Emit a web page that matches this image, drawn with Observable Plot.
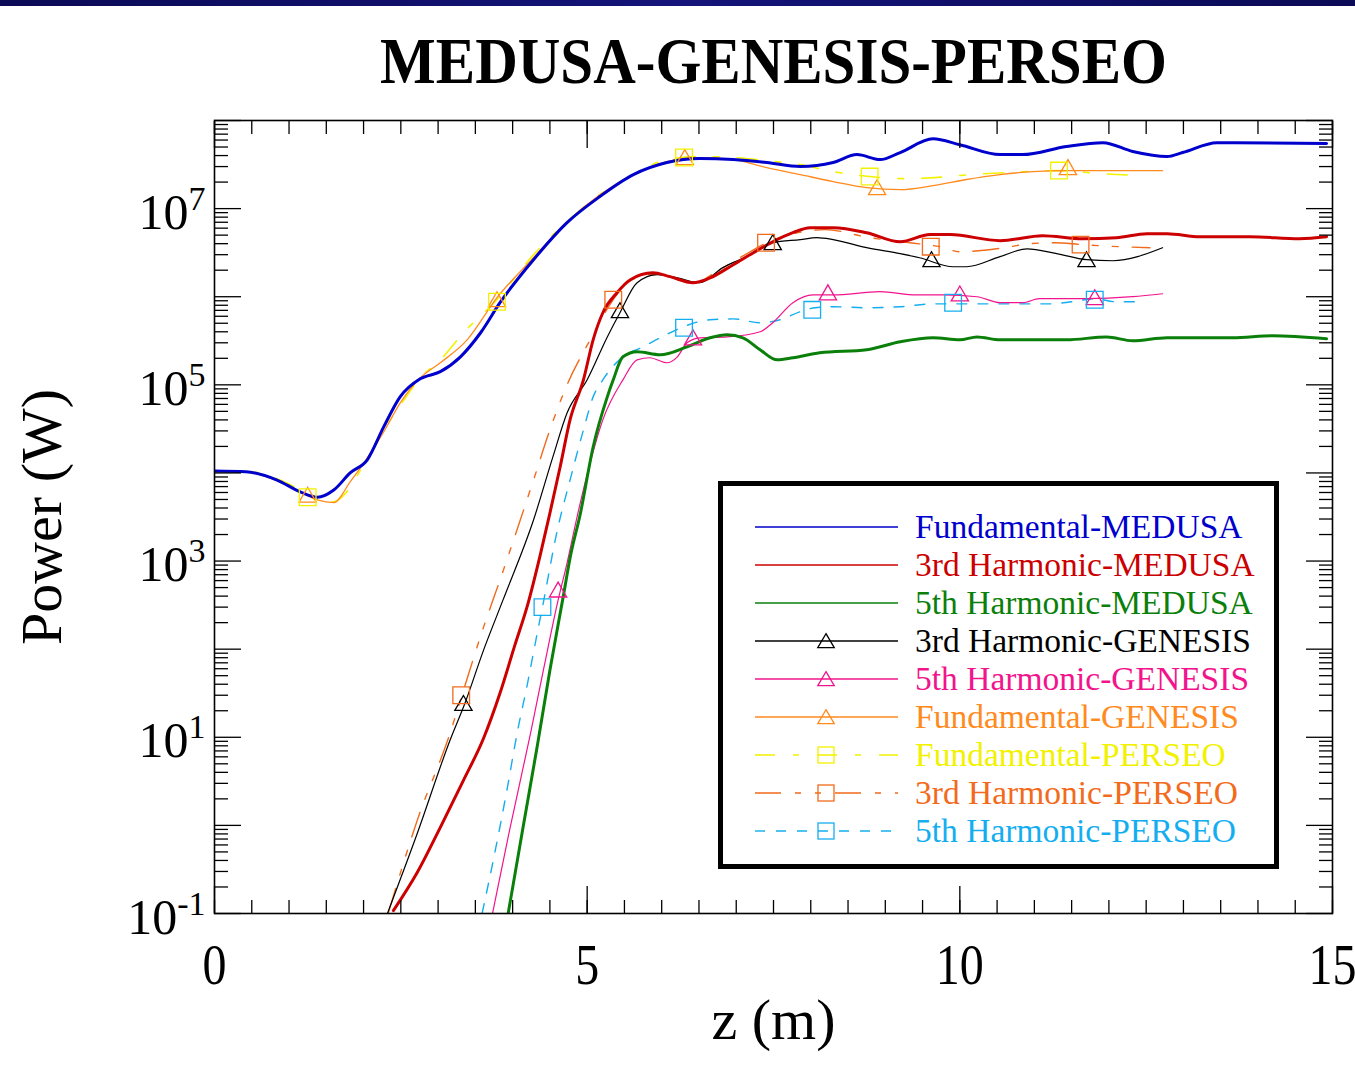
<!DOCTYPE html>
<html><head><meta charset="utf-8">
<script src="https://cdn.jsdelivr.net/npm/d3@7"></script>
<script src="https://cdn.jsdelivr.net/npm/@observablehq/plot@0.6"></script>
<style>
body{margin:0;background:#fff;}
#wrap{position:relative;width:1355px;height:1068px;overflow:hidden;background:#fff;}
#bar{position:absolute;left:0;top:0;width:1355px;height:6px;background:linear-gradient(to right,#0a0a55,#14147a 50%,#0a0a55);}
#legend{position:absolute;left:718px;top:481px;width:561px;height:388px;box-sizing:border-box;border:5px solid #000;background:#fff;}
</style></head><body>
<div id="wrap"><div id="chart"></div><div id="bar"></div><div id="legend"></div></div>
<script>
// ---------- data (z in m, power in W) ----------
const titleText = "MEDUSA-GENESIS-PERSEO";
const xLabel = "z (m)";
const yLabel = "Power (W)";
const xTickLabels = [0, 5, 10, 15];
const yTickLabels = [0.1, 10, 1e3, 1e5, 1e7];

const zFundMedusa = [0, 0.42, 0.84, 1.15, 1.38, 1.6, 1.82, 2.05, 2.27, 2.49, 2.76, 3.03, 3.3, 3.57, 3.83, 4.28, 4.73, 5.17, 5.62, 6.07, 6.51, 6.96, 7.41, 7.86, 8.3, 8.62, 8.93, 9.2, 9.64, 10.0, 10.54, 10.84, 11.43, 11.92, 12.32, 12.78, 12.99, 13.45, 14.92];
const pFundMedusa = [1.05e4, 1.03e4, 8.3e3, 6.1e3, 5.3e3, 6.4e3, 1.0e4, 1.41e4, 3.33e4, 7.3e4, 1.17e5, 1.41e5, 2.08e5, 3.9e5, 8.55e5, 2.63e6, 6.93e6, 1.37e7, 2.43e7, 3.33e7, 3.7e7, 3.6e7, 3.33e7, 3.0e7, 3.33e7, 4.1e7, 3.6e7, 4.33e7, 6.2e7, 5.3e7, 4.1e7, 4.1e7, 5.07e7, 5.6e7, 4.45e7, 3.9e7, 4.33e7, 5.6e7, 5.5e7];

const z3Medusa = [2.4, 2.72, 3.03, 3.34, 3.61, 3.83, 4.03, 4.2, 4.37, 4.5, 4.64, 4.77, 4.95, 5.08, 5.21, 5.4, 5.58, 5.88, 6.11, 6.42, 6.65, 6.96, 7.23, 7.49, 7.76, 7.99, 8.3, 8.75, 9.2, 9.6, 9.87, 10.54, 11.11, 11.65, 12.1, 12.51, 12.78, 13.22, 13.89, 14.56, 14.92];
const p3Medusa = [0.108, 0.292, 0.95, 3.24, 9.75, 31.6, 111, 316, 1.17e3, 3.5e3, 1.2e4, 4.0e4, 1.14e5, 3.24e5, 6.58e5, 1.11e6, 1.56e6, 1.87e6, 1.69e6, 1.44e6, 1.64e6, 2.31e6, 3.16e6, 4.2e6, 5.33e6, 6.08e6, 6.08e6, 5.33e6, 4.2e6, 5.07e6, 5.07e6, 4.33e6, 4.93e6, 4.56e6, 4.68e6, 5.2e6, 5.2e6, 4.8e6, 4.8e6, 4.56e6, 4.8e6];

const z5Medusa = [3.94, 4.14, 4.33, 4.5, 4.68, 4.77, 4.91, 5.08, 5.27, 5.35, 5.48, 5.67, 5.98, 6.34, 6.65, 6.88, 7.09, 7.32, 7.55, 7.76, 8.12, 8.75, 9.2, 9.64, 10.0, 10.23, 10.54, 11.43, 11.97, 12.32, 12.78, 13.66, 14.2, 14.92];
const p5Medusa = [0.1, 0.95, 7.9, 57.7, 400, 1.08e3, 3.5e3, 1.97e4, 7.3e4, 1.14e5, 2.08e5, 2.37e5, 2.19e5, 2.7e5, 3.42e5, 3.7e5, 3.42e5, 2.5e5, 1.92e5, 2.03e5, 2.31e5, 2.5e5, 3.08e5, 3.42e5, 3.24e5, 3.5e5, 3.24e5, 3.24e5, 3.5e5, 3.16e5, 3.42e5, 3.42e5, 3.6e5, 3.33e5];

const z3Genesis = [2.32, 2.72, 3.16, 3.36, 3.61, 3.87, 4.28, 4.54, 4.73, 5.0, 5.27, 5.44, 5.67, 5.94, 6.21, 6.51, 6.82, 7.14, 7.49, 7.86, 8.08, 8.3, 8.75, 9.2, 9.46, 9.91, 10.09, 10.54, 10.9, 11.3, 11.7, 12.05, 12.72];
const p3Genesis = [0.1, 0.81, 9.25, 24.3, 97.5, 360, 2.92e3, 1.52e4, 4.8e4, 1.14e5, 3.5e5, 6.58e5, 1.44e6, 1.78e6, 1.64e6, 1.44e6, 2.14e6, 2.85e6, 4.1e6, 4.45e6, 4.68e6, 4.45e6, 3.6e6, 3.08e6, 2.77e6, 2.19e6, 2.19e6, 2.85e6, 3.5e6, 3.08e6, 2.63e6, 2.56e6, 3.6e6];

const z5Genesis = [3.73, 3.95, 4.24, 4.42, 4.61, 4.73, 4.87, 5.04, 5.21, 5.48, 5.67, 5.84, 6.07, 6.21, 6.34, 6.51, 6.88, 7.32, 7.49, 7.76, 8.03, 8.3, 8.93, 9.42, 9.77, 10.23, 10.54, 10.84, 11.07, 11.7, 12.32, 12.72];
const p5Genesis = [0.1, 0.81, 11.1, 62, 360, 948, 3.33e3, 1.3e4, 4.0e4, 1.14e5, 1.92e5, 2.03e5, 1.78e5, 2.08e5, 3.0e5, 3.42e5, 3.5e5, 4.0e5, 5.07e5, 8.55e5, 1.05e6, 1.05e6, 1.14e6, 1.05e6, 1.05e6, 1.0e6, 8.55e5, 8.55e5, 9.5e5, 9.5e5, 1.0e6, 1.08e6];

const zFundGenesis = [0, 0.42, 0.88, 1.15, 1.39, 1.6, 1.82, 2.05, 2.27, 2.49, 2.76, 3.03, 3.39, 3.79, 4.28, 4.73, 5.17, 5.62, 6.07, 6.51, 6.96, 7.41, 7.86, 8.3, 8.75, 9.2, 9.64, 10.09, 10.54, 10.98, 11.43, 12.72];
const pFundGenesis = [1.05e4, 1.03e4, 7.9e3, 6.1e3, 4.9e3, 4.6e3, 7.9e3, 1.48e4, 2.92e4, 6.2e4, 1.2e5, 1.78e5, 3.24e5, 9.75e5, 2.77e6, 7.1e6, 1.44e7, 2.43e7, 3.42e7, 3.8e7, 3.6e7, 2.92e7, 2.43e7, 2.03e7, 1.73e7, 1.64e7, 1.82e7, 2.14e7, 2.43e7, 2.63e7, 2.7e7, 2.7e7];

const zFundPerseo = [0, 0.48, 0.88, 1.15, 1.39, 1.6, 1.76, 1.96, 2.16, 2.36, 2.56, 2.76, 3.03, 3.34, 3.79, 4.28, 4.73, 5.17, 5.62, 6.07, 6.51, 6.96, 7.41, 7.86, 8.3, 8.79, 9.26, 9.66, 10.13, 10.6, 11.34, 11.88, 12.41];
const pFundPerseo = [1.05e4, 1.03e4, 8.3e3, 6.4e3, 4.9e3, 4.7e3, 5.9e3, 1.08e4, 2.08e4, 4.0e4, 7.1e4, 1.2e5, 1.92e5, 3.9e5, 9.25e5, 3.0e6, 7.1e6, 1.44e7, 2.43e7, 3.6e7, 3.9e7, 3.8e7, 3.5e7, 3.16e7, 2.63e7, 2.31e7, 2.19e7, 2.25e7, 2.43e7, 2.56e7, 2.7e7, 2.5e7, 2.37e7];

const z3Perseo = [2.33, 2.72, 3.16, 3.32, 3.61, 3.83, 4.28, 4.5, 4.73, 5.04, 5.35, 5.54, 5.84, 6.11, 6.42, 6.78, 7.12, 7.41, 7.72, 8.19, 8.79, 9.33, 9.73, 10.0, 10.6, 10.94, 11.27, 11.64, 12.14, 12.55];
const p3Perseo = [0.1, 1.14, 11.1, 30, 178, 608, 8.3e3, 3.08e4, 1.0e5, 3.24e5, 9.25e5, 1.44e6, 1.78e6, 1.69e6, 1.44e6, 2.03e6, 3.0e6, 4.1e6, 5.07e6, 5.77e6, 4.68e6, 4.1e6, 3.7e6, 3.24e6, 3.6e6, 4.0e6, 4.1e6, 3.9e6, 3.7e6, 3.6e6];

const z5Perseo = [3.59, 3.74, 3.93, 4.06, 4.2, 4.33, 4.4, 4.6, 4.77, 4.95, 5.08, 5.21, 5.48, 5.75, 5.98, 6.29, 6.65, 6.96, 7.32, 7.59, 7.86, 8.06, 8.3, 8.75, 9.2, 9.64, 9.91, 10.54, 11.2, 11.5, 11.81, 12.1, 12.45];
const p5Perseo = [0.1, 0.4, 2.7, 11.1, 41, 152, 300, 2.25e3, 8.3e3, 3.08e4, 7.3e4, 1.14e5, 2.08e5, 2.7e5, 3.42e5, 4.56e5, 5.48e5, 5.6e5, 5.07e5, 5.48e5, 6.76e5, 7.5e5, 7.7e5, 7.5e5, 7.7e5, 8.3e5, 8.3e5, 8.3e5, 8.3e5, 8.77e5, 9.5e5, 8.77e5, 8.77e5];

// marker points (symbols drawn on the curves)
const mkFundGenesisZ = [1.25, 3.79, 6.31, 8.89, 11.45];
const mkFundGenesisP = [5.3e3, 8.77e5, 3.6e7, 1.64e7, 2.77e7];
const mk3GenesisZ = [3.34, 5.44, 7.49, 9.62, 11.7];
const mk3GenesisP = [23, 6.58e5, 3.9e6, 2.5e6, 2.5e6];
const mk5GenesisZ = [4.61, 6.42, 8.23, 10.0, 11.81];
const mk5GenesisP = [445, 3.24e5, 1.05e6, 1.02e6, 9.25e5];
const mkFundPerseoZ = [1.25, 3.79, 6.3, 8.79, 11.33];
const mkFundPerseoP = [5.3e3, 8.77e5, 3.8e7, 2.31e7, 2.7e7];
const mk3PerseoZ = [3.31, 5.35, 7.4, 9.61, 11.62];
const mk3PerseoP = [30, 9.25e5, 4.1e6, 3.7e6, 3.9e6];
const mk5PerseoZ = [4.4, 6.3, 8.02, 9.91, 11.81];
const mk5PerseoP = [300, 4.45e5, 7.1e5, 8.55e5, 9.25e5];

// ---------- series definitions ----------
const FONT = "'Liberation Serif','Times New Roman',Times,serif";
const series = [
  {name:"Fundamental-MEDUSA",  z:zFundMedusa, p:pFundMedusa, color:"#0000cd", w:3, legendW:1.5},
  {name:"3rd Harmonic-MEDUSA", z:z3Medusa,    p:p3Medusa,    color:"#cc0000", w:3, legendW:1.5},
  {name:"5th Harmonic-MEDUSA", z:z5Medusa,    p:p5Medusa,    color:"#0a800a", w:3, legendW:1.5},
  {name:"3rd Harmonic-GENESIS",z:z3Genesis,   p:p3Genesis,   color:"#000000", w:1.2, legendW:1.3, symbol:"triangle", mz:mk3GenesisZ, mp:mk3GenesisP},
  {name:"5th Harmonic-GENESIS",z:z5Genesis,   p:p5Genesis,   color:"#f2148c", w:1.2, legendW:1.3, symbol:"triangle", mz:mk5GenesisZ, mp:mk5GenesisP},
  {name:"Fundamental-GENESIS", z:zFundGenesis,p:pFundGenesis,color:"#ff8a1e", w:1.3, legendW:1.3, symbol:"triangle", mz:mkFundGenesisZ, mp:mkFundGenesisP},
  {name:"Fundamental-PERSEO",  z:zFundPerseo, p:pFundPerseo, color:"#f2f200", w:1.6, legendW:1.6, dash:"20,18,6,18", symbol:"square", mz:mkFundPerseoZ, mp:mkFundPerseoP},
  {name:"3rd Harmonic-PERSEO", z:z3Perseo,    p:p3Perseo,    color:"#f26a1b", w:1.4, legendW:1.4, dash:"26,14,6,14,6,14", symbol:"square", mz:mk3PerseoZ, mp:mk3PerseoP},
  {name:"5th Harmonic-PERSEO", z:z5Perseo,    p:p5Perseo,    color:"#14aef0", w:1.4, legendW:1.4, dash:"10,11", symbol:"square", mz:mk5PerseoZ, mp:mk5PerseoP}
];
const drawOrder = [6, 7, 8, 5, 3, 4, 0, 1, 2];

const table = s => s.z.map((z, i) => ({z, p: s.p[i]}));
const mtable = s => s.mz.map((z, i) => ({z, p: s.mp[i]}));

const lineMarks = drawOrder.map(i => {
  const s = series[i];
  const o = {x:"z", y:"p", stroke:s.color, strokeWidth:s.w, curve:"monotone-x", clip:true};
  if (s.dash) o.strokeDasharray = s.dash;
  return Plot.line(table(s), o);
});
const dotMarks = series.filter(s => s.symbol).map(s =>
  Plot.dot(mtable(s), {x:"z", y:"p", symbol:s.symbol, r: s.symbol === "triangle" ? 6.4 : 9.4,
    stroke:s.color, fill:"none", strokeWidth:1.3}));

// ticks
const xMajor = xTickLabels;
const xMinor = d3.range(0, 15.001, 0.5);
const yMajor = d3.range(-1, 9).map(k => Math.pow(10, k));
const yMinor = [];
for (let k = -1; k < 8; k++) for (let m = 2; m <= 9; m++) yMinor.push(m * Math.pow(10, k));
const blank = () => "";
const tk = {label:null, tickFormat:blank, strokeWidth:1.3};

const chart = Plot.plot({
  width: 1355, height: 1068,
  marginLeft: 214, marginRight: 23, marginTop: 120, marginBottom: 155,
  style: {fontFamily: FONT, color: "#000", background: "#fff"},
  x: {domain: [0, 15], axis: null},
  y: {type: "log", domain: [0.1, 1e8], axis: null},
  marks: [
    ...lineMarks,
    ...dotMarks,
    Plot.axisX({...tk, anchor:"bottom", ticks:xMinor, tickSize:-13}),
    Plot.axisX({...tk, anchor:"bottom", ticks:xMajor, tickSize:-27}),
    Plot.axisX({...tk, anchor:"top", ticks:xMinor, tickSize:-13}),
    Plot.axisX({...tk, anchor:"top", ticks:xMajor, tickSize:-27}),
    Plot.axisY({...tk, anchor:"left", ticks:yMinor, tickSize:-14}),
    Plot.axisY({...tk, anchor:"left", ticks:yMajor, tickSize:-27}),
    Plot.axisY({...tk, anchor:"right", ticks:yMinor, tickSize:-14}),
    Plot.axisY({...tk, anchor:"right", ticks:yMajor, tickSize:-27}),
    Plot.axisX({anchor:"bottom", label:null, ticks:xTickLabels, tickSize:0, tickPadding:33,
      fontSize:48, fontFamily:FONT, tickFormat: d => String(d)}),
    Plot.axisY({anchor:"left", label:null, ticks:yTickLabels, tickSize:0, tickPadding:9, dy:4,
      fontSize:50, fontFamily:FONT, tickFormat: d => "10^" + Math.round(Math.log10(d))}),
    Plot.frame({stroke:"#000", strokeWidth:1.6}),
    Plot.text([titleText], {text: d => d, frameAnchor:"top", lineAnchor:"middle", textAnchor:"middle", dy:-58, fontSize:59, fontWeight:"bold", fontFamily:FONT, fill:"#000"}),
    Plot.text([xLabel], {text: d => d, frameAnchor:"bottom", lineAnchor:"middle", textAnchor:"middle", dy:107, fontSize:58, fontFamily:FONT, fill:"#000"}),
    Plot.text([yLabel], {text: d => d, frameAnchor:"left", lineAnchor:"middle", textAnchor:"middle", dx:-172, rotate:-90, fontSize:58, fontFamily:FONT, fill:"#000"})
  ]
});
document.getElementById("chart").appendChild(chart);

// superscripts for the power-of-ten labels
chart.querySelectorAll("text").forEach(t => {
  const m = t.textContent.match(/^10\^(-?\d+)$/);
  if (m) {
    t.textContent = "10";
    const ts = document.createElementNS("http://www.w3.org/2000/svg", "tspan");
    ts.setAttribute("dy", "-19");
    ts.setAttribute("font-size", "34");
    ts.textContent = m[1];
    t.appendChild(ts);
  }
});

// the reference typesetting is slightly taller than the font: stretch vertically about the centre
function stretch(el, sy) {
  const g = document.createElementNS("http://www.w3.org/2000/svg", "g");
  el.parentNode.insertBefore(g, el);
  g.appendChild(el);
  const b = g.getBBox();
  const cy = b.y + b.height / 2;
  g.setAttribute("transform", `translate(0,${cy}) scale(1,${sy}) translate(0,${-cy})`);
}
chart.querySelectorAll('g[aria-label="x-axis tick label"] text').forEach(t => {
  if (t.textContent !== "") stretch(t, 1.2);
});
chart.querySelectorAll("text").forEach(t => {
  if (t.textContent === titleText) stretch(t, 1.1);
});

// ---------- legend (inside the plot frame) ----------
const lg = d3.select("#legend").append("svg").attr("width", 551).attr("height", 378)
  .style("display", "block");
series.forEach((s, i) => {
  const cy = 41 + 38 * i;
  const g = lg.append("g");
  const ln = g.append("line").attr("x1", 32).attr("x2", 175).attr("y1", cy).attr("y2", cy)
    .attr("stroke", s.color).attr("stroke-width", s.legendW);
  if (s.dash) ln.attr("stroke-dasharray", s.dash);
  if (s.symbol === "triangle") {
    const h = 14, a = 16.5;
    g.append("path").attr("d", `M103,${cy - h * 2 / 3 + 2}L${103 + a / 2},${cy + h / 3 + 2}L${103 - a / 2},${cy + h / 3 + 2}Z`)
      .attr("fill", "none").attr("stroke", s.color).attr("stroke-width", 1.3);
  } else if (s.symbol === "square") {
    g.append("rect").attr("x", 103 - 8).attr("y", cy - 8).attr("width", 16).attr("height", 16)
      .attr("fill", "none").attr("stroke", s.color).attr("stroke-width", 1.3);
  }
  g.append("text").attr("x", 192).attr("y", cy + 11).attr("fill", s.color)
    .attr("font-family", FONT).attr("font-size", 33.5).text(s.name);
});
</script></body></html>
